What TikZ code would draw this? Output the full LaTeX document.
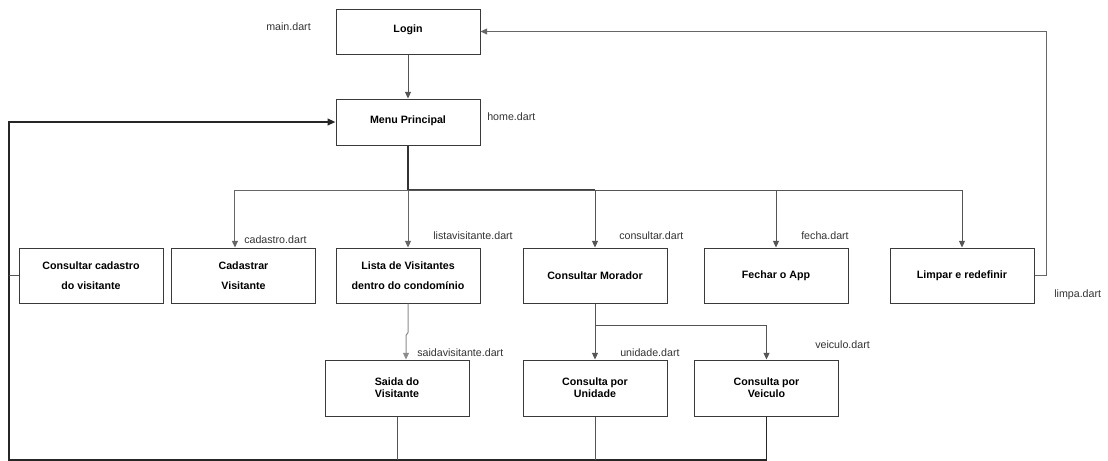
\documentclass[tikz,border=0pt]{standalone}
\usepackage{fontspec}
\setmainfont{Liberation Sans}
\usetikzlibrary{arrows.meta}
\definecolor{linec}{HTML}{555555}
\definecolor{boxc}{HTML}{3A3A3A}
\definecolor{labc}{HTML}{333333}
\tikzset{
  box/.style={draw=boxc, line width=0.75pt, rectangle, minimum width=108pt, inner sep=0pt, align=center, font=\bfseries\fontsize{8}{9}\selectfont},
  boxA/.style={box, minimum height=33.75pt},
  boxB/.style={box, minimum height=41.25pt},
  boxC/.style={box, minimum height=42pt},
  wide/.style={font=\bfseries\fontsize{8}{17.25}\selectfont},
  lab/.style={anchor=west, inner sep=0pt, text=labc, font=\fontsize{8}{9}\selectfont},
  conn/.style={draw=linec, line width=0.75pt},
  arr/.style={conn, -{Triangle[length=5pt,width=4.5pt]}},
  loopline/.style={draw=black!85, line width=1.4pt},
}
\begin{document}
\begin{tikzpicture}[x=0.75pt,y=-0.75pt]
\useasboundingbox (0,0) rectangle (1108,461);
% boxes
\node[boxA] (login) at (408,31.5) {\raisebox{4pt}{Login}};
\node[boxA,minimum height=34.5pt] (menu) at (408,122) {\raisebox{3.75pt}{Menu Principal}};
\node[boxB,wide] (cadcons) at (91,275.5) {\raisebox{-1.5pt}{\shortstack{Consultar cadastro\\[6pt]do visitante}}};
\node[boxB,wide] (cadastrar) at (243.5,275.5) {\raisebox{-1.5pt}{\shortstack{Cadastrar\\[6pt]Visitante}}};
\node[boxB,wide] (lista) at (408,275.5) {\raisebox{-1.5pt}{\shortstack{Lista de Visitantes\\[6pt]dentro do condomínio}}};
\node[boxB] (morador) at (595,275.5) {\raisebox{-4pt}{Consultar Morador}};
\node[boxB] (fechar) at (776,275.5) {\raisebox{-4pt}{Fechar o App}};
\node[boxB] (limpar) at (962,275.5) {\raisebox{-4pt}{Limpar e redefinir}};
\node[boxC] (saida) at (397,388) {Saida do\\Visitante};
\node[boxC] (unidade) at (595,388) {Consulta por\\Unidade};
\node[boxC] (veiculo) at (766.5,388) {Consulta por\\Veiculo};
% labels
\node[lab] (lmain) at (266,27) {main.dart};
\node[lab] (lhome) at (487,117) {home.dart};
\node[lab] (lcad) at (244,240) {cadastro.dart};
\node[lab] (llista) at (433,236) {listavisitante.dart};
\node[lab] (lcons) at (619,236) {consultar.dart};
\node[lab] (lfecha) at (801,236) {fecha.dart};
\node[lab] (llimpa) at (1054,295) {limpa.dart};
\node[lab] (lsaida) at (417,353) {saidavisitante.dart};
\node[lab] (lunid) at (620,353) {unidade.dart};
\node[lab] (lveic) at (815,345) {veiculo.dart};
% coordinates
\coordinate (hub) at (408,190);
\coordinate (bl) at (9,460);
% connectors
\draw[arr] (login) -- (menu);
\draw[conn, line width=1pt, draw=black!80] (menu.south) -- (hub);
\draw[conn, draw=black!40] (hub) -- (hub -| 235,0);
\draw[arr, draw=black!60] (hub) -| ([xshift=-6.4pt]cadastrar.north);
\draw[arr, draw=black!60] (hub) -- (lista.north);
\draw[conn, line width=1pt, draw=black!75] (hub) -- (hub -| morador.north);
\draw[arr] (hub -| morador.north) -- (morador.north);
\draw[arr] (hub) -| (fechar.north);
\draw[arr] (hub) -| (limpar.north);
\draw[arr, draw=black!45] (lista.south) -- ++(0,29) -- ++(-2,3) -- ([xshift=6.75pt]saida.north);
\draw[arr] (morador.south) -- (unidade.north);
\draw[arr] (morador.south) -- ++(0,22) -| (veiculo.north);
\draw[arr, draw=black!60] (limpar.east) -- ++(12,0) |- (login.east);
% return loop
\draw[loopline, -{Triangle[length=6pt,width=5pt]}] (veiculo.south) |- (bl) |- (menu.west);
\draw[conn] (saida.south) -- (saida.south |- bl);
\draw[conn] (unidade.south) -- (unidade.south |- bl);
\draw[conn] (cadcons.west) -- (cadcons.west -| bl);
\end{tikzpicture}
\end{document}
